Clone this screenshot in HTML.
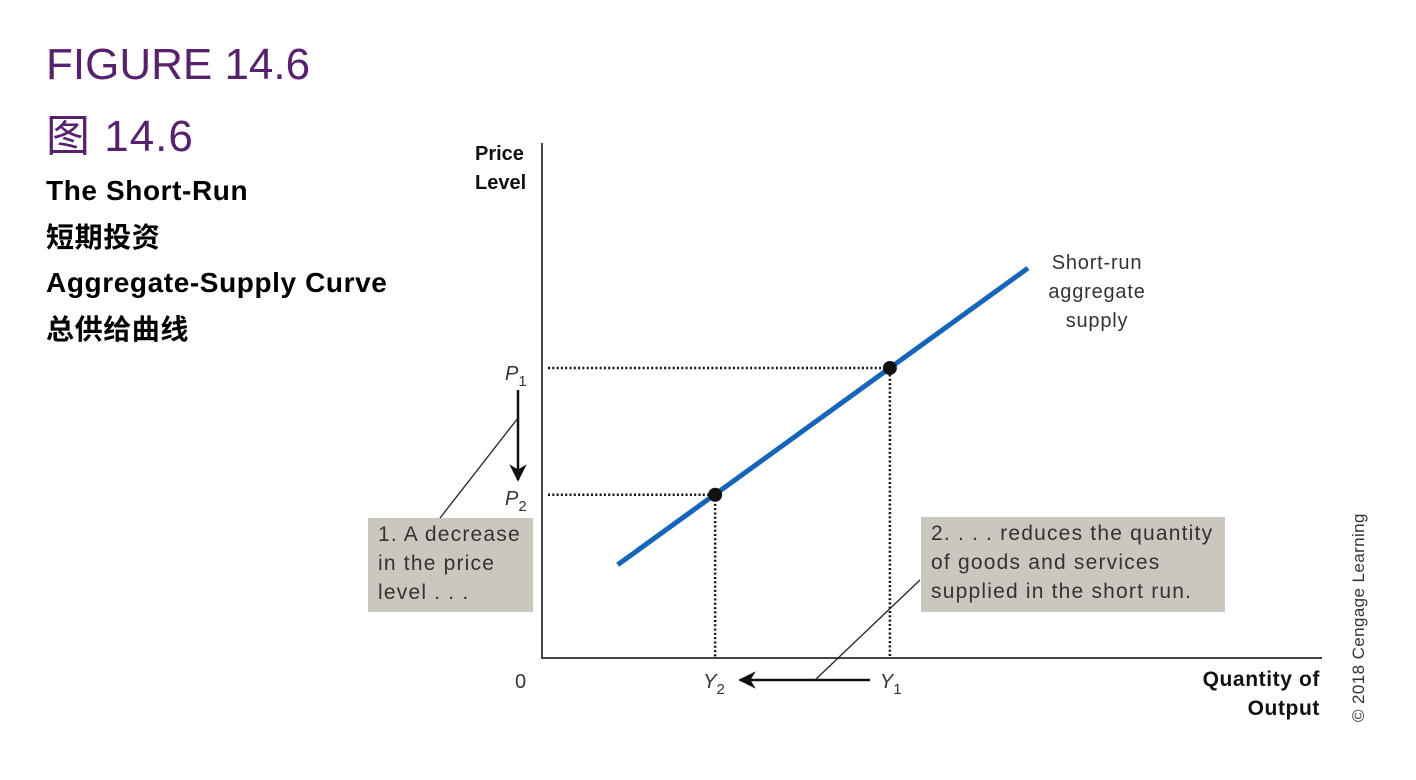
<!DOCTYPE html>
<html><head><meta charset="utf-8"><style>
html,body{margin:0;padding:0;background:#fff;width:1416px;height:780px;overflow:hidden}
.h{position:absolute;left:46px;color:#58216d;font-family:"Liberation Sans","Noto Sans CJK SC",sans-serif;font-size:44px;margin:0;font-weight:normal}
.b{position:absolute;left:46px;color:#000;font-family:"Liberation Sans","Noto Sans CJK SC",sans-serif;font-size:28px;font-weight:bold;letter-spacing:0.6px}
svg text{font-family:"Liberation Sans",sans-serif}
</style></head><body>
<div class="h" style="top:40px">FIGURE 14.6</div>
<div class="h" style="top:100px;letter-spacing:1px">图 14.6</div>
<div class="b" style="top:175px">The Short-Run</div>
<div class="b" style="top:216px">短期投资</div>
<div class="b" style="top:267px">Aggregate-Supply Curve</div>
<div class="b" style="top:308px">总供给曲线</div>
<svg id="chart" width="1416" height="780" style="position:absolute;left:0;top:0"></svg>
<script>
const curveX = [9.7, 62.3];
const curveY = [18.1, 75.7];
const pointLabels = ["Y1", "Y2"];
const pointX = [44.6, 22.2];
const pointY = [56.3, 31.7];
const sx = v => 542 + v * 7.8;
const sy = v => 658 - v * 5.15;
const svg = document.getElementById('chart');
const NS = 'http://www.w3.org/2000/svg';
function mk(tag, attrs, txt){const e=document.createElementNS(NS,tag);for(const k in attrs)e.setAttribute(k,attrs[k]);if(txt!==undefined)e.textContent=txt;svg.appendChild(e);return e;}
let e;
e=mk('defs',{});e.innerHTML='<marker id="ah" viewBox="0 0 10 10" refX="9" refY="5" markerWidth="7" markerHeight="7" orient="auto-start-reverse"><path d="M0,0 L10,5 L0,10 L3,5 z" fill="#111"/></marker>';
e=mk('rect',{x:368,y:518,width:165,height:94,fill:'#cbc7bf'});


e=mk('rect',{x:921,y:517,width:304,height:95,fill:'#cbc7bf'});


e=mk('path',{d:'M542,143 V658 H1322',fill:'none',stroke:'#444','stroke-width':2});


for(let i=0;i<pointX.length;i++){
  e=mk('path',{d:`M548,${sy(pointY[i])} H${sx(pointX[i])} V658`,fill:'none',stroke:'#111','stroke-width':2.5,'stroke-dasharray':'2,2.3'});
  
  
}
e=mk('line',{x1:sx(curveX[0]),y1:sy(curveY[0]),x2:sx(curveX[1]),y2:sy(curveY[1]),stroke:'#1565b8','stroke-width':5});


for(let i=0;i<pointX.length;i++){
  e=mk('circle',{cx:sx(pointX[i]),cy:sy(pointY[i]),r:7,fill:'#111'});
  
  
}
e=mk('line',{x1:518,y1:390,x2:518,y2:480,stroke:'#111','stroke-width':2.5,'marker-end':'url(#ah)'});


e=mk('line',{x1:870,y1:680,x2:740,y2:680,stroke:'#111','stroke-width':2.5,'marker-end':'url(#ah)'});


e=mk('line',{x1:440,y1:518,x2:518,y2:418,stroke:'#222','stroke-width':1.3});


e=mk('line',{x1:815,y1:680,x2:920,y2:580,stroke:'#222','stroke-width':1.3});


function t(x,y,s,size,attrs,name){const o=Object.assign({x:x,y:y,'font-size':size,fill:'#333'},attrs||{});const el=mk('text',o);el.innerHTML=s;return el;}
t(475,160,'Price',20,{'font-weight':'bold',fill:'#111'},'y-axis-title');
t(475,189,'Level',20,{'font-weight':'bold',fill:'#111'},'y-axis-title-2');
t(1320,686,'Quantity of',21,{'font-weight':'bold',fill:'#111','text-anchor':'end','letter-spacing':'0.6'},'x-axis-title');
t(1320,715,'Output',21,{'font-weight':'bold',fill:'#111','text-anchor':'end','letter-spacing':'0.6'},'x-axis-title-2');
t(515,688,'0',20,{},'origin-label');
t(505,380,'<tspan font-style="italic">P</tspan><tspan font-size="15" dy="6">1</tspan>',20,{},'p1-label');
t(505,505,'<tspan font-style="italic">P</tspan><tspan font-size="15" dy="6">2</tspan>',20,{},'p2-label');
t(sx(pointX[1])-12,688,'<tspan font-style="italic">Y</tspan><tspan font-size="15" dy="6">2</tspan>',20,{},'y2-label');
t(sx(pointX[0])-10,688,'<tspan font-style="italic">Y</tspan><tspan font-size="15" dy="6">1</tspan>',20,{},'y1-label');
const ls={'text-anchor':'middle','letter-spacing':'0.8'};
t(1097,269,'Short-run',20,ls,'curve-label-1');
t(1097,298,'aggregate',20,ls,'curve-label-2');
t(1097,327,'supply',20,ls,'curve-label-3');
const bs={'font-size':21,'letter-spacing':'1.2'};
t(378,541,'1. A decrease',21,bs,'note-1-line1');
t(378,570,'in the price',21,bs,'note-1-line2');
t(378,599,'level . . .',21,bs,'note-1-line3');
t(931,540,'2. . . . reduces the quantity',21,bs,'note-2-line1');
t(931,569,'of goods and services',21,bs,'note-2-line2');
t(931,598,'supplied in the short run.',21,bs,'note-2-line3');
t(0,0,'© 2018 Cengage Learning',17,{transform:'translate(1364,722) rotate(-90)','letter-spacing':'0.4'},'copyright');
</script>
</body></html>
